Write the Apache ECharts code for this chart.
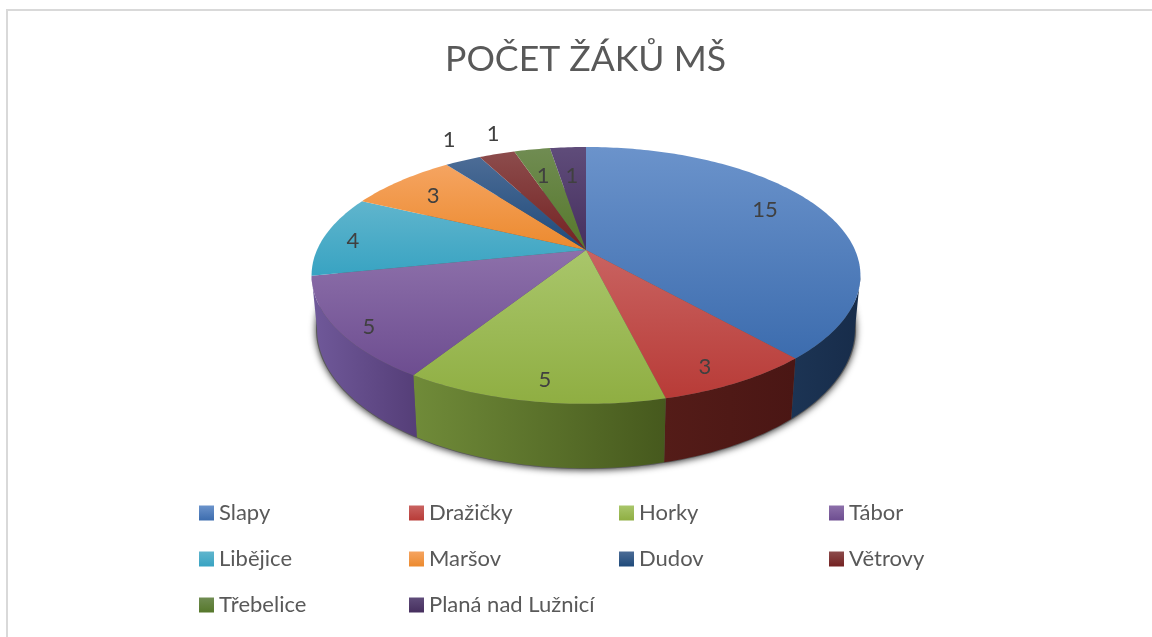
<!DOCTYPE html>
<html>
<head>
<meta charset="utf-8">
<style>html,body{margin:0;padding:0;background:#fff}#c{width:1152px;height:637px}</style>
<script src="https://cdn.jsdelivr.net/npm/echarts@6/dist/echarts.min.js"></script>
</head>
<body>
<div id="c"></div>
<script>
const titleText = 'POČET ŽÁKŮ MŠ';
const categories = ['Slapy','Dražičky','Horky','Tábor','Libějice','Maršov','Dudov','Větrovy','Třebelice','Planá nad Lužnicí'];
const values = [15,3,5,5,4,3,1,1,1,1];

// slice colours: top surface (far, near) and side wall (left, right)
const topLight = ['#6b93cb','#c96361','#a9c66b','#8d70aa','#60b5cd','#f5a461','#4c6c96','#8c4c4c','#708c52','#5f4c7a'];
const topDark  = ['#3c6cae','#b83b37','#8fae42','#6d4d90','#38a3c2','#ec8a2e','#1f4a7a','#742222','#56782b','#462f5e'];
const wallLeft = ['#1c3454','#541c18','#708b39','#70599a','#2c7f96','#b06820','#173857','#571a1a','#40591f','#342345'];
const wallRight= ['#172c4a','#4a1614','#46591d','#553e78','#2c7f96','#b06820','#173857','#571a1a','#40591f','#342345'];
// data-label placement: fraction of the radius and turn (degrees) from the slice's middle
const labelRadius = [.791,.881,.881,.908,.882,.786,1.247,1.231,.704,.683];
const labelTurn   = [-5.2,2.7,-1,-3.1,-2.1,-1.6,2.6,2.9,-1,-.4];

const total = values.reduce((a,b)=>a+b,0);
const starts = values.map((_,i)=>values.slice(0,i).reduce((a,b)=>a+b,0));

// perspective of the disc
const CX = 586, CY = 250, A = 269, B = 123.4, K = .198;
const XB = .98, CYB = 301.2, BB = 134;
const rad = d => d*Math.PI/180;
const WALL_FROM = Math.acos(-K)*180/Math.PI, WALL_TO = 360 - WALL_FROM;
function topPt(deg, r){
  const t = rad(deg), w = 1 + K*r*Math.cos(t);
  return [CX + A*r*Math.sin(t)/w, CY - B*r*Math.cos(t)/w];
}
function botPt(deg, r){
  const t = rad(deg), w = 1 + K*Math.cos(t);
  return [CX + XB*A*r*Math.sin(t)/w, CYB - BB*r*Math.cos(t)/w];
}
function arc(fn, a, b, r){
  const n = Math.max(2, Math.ceil(Math.abs(b-a))), pts = [];
  for (let i=0;i<=n;i++) pts.push(fn(a+(b-a)*i/n, r===undefined?1:r));
  return pts;
}
const vGrad = (a,b)=>new echarts.graphic.LinearGradient(0,0,0,1,[{offset:0,color:a},{offset:1,color:b}]);
const hGrad = (a,b)=>new echarts.graphic.LinearGradient(0,0,1,0,[{offset:0,color:a},{offset:1,color:b}]);

function renderSlice(i){
  return function(params, api){
    const a = api.value(0)/total*360, b = a + api.value(1)/total*360;
    const children = [];
    const wa = Math.max(a,WALL_FROM), wb = Math.min(b,WALL_TO);
    if (wb > wa){
      children.push({type:'polygon', z2:1, silent:true,
        shape:{points: arc(topPt,wa,wb).concat(arc(botPt,wa,wb).reverse())},
        style:{fill:hGrad(wallLeft[i],wallRight[i])}});
    }
    children.push({type:'polygon', z2:2, silent:true,
      shape:{points:[topPt(0,0)].concat(arc(topPt,a,b))},
      style:{fill:vGrad(topLight[i],topDark[i])}});
    const p = topPt((a+b)/2 + labelTurn[i], labelRadius[i]);
    children.push({type:'text', z2:3, silent:true, x:p[0], y:p[1],
      style:{text:String(api.value(1)), fill:'#404040', font:'22px Lato', textAlign:'center', textVerticalAlign:'middle'}});
    return {type:'group', children};
  };
}
function renderShadow(){
  return {type:'polygon', z2:0, silent:true,
    shape:{points:arc(botPt,0,360,1.004)},
    style:{fill:'#5a5a5a', shadowBlur:7, shadowColor:'rgba(0,0,0,.8)', shadowOffsetX:0, shadowOffsetY:1}};
}

const series = [{type:'custom', name:'shadow', coordinateSystem:'none', silent:true, animation:false,
  data:[[0]], renderItem:renderShadow}];
categories.forEach((name,i)=>{
  series.push({type:'custom', name, coordinateSystem:'none', silent:true, animation:false,
    itemStyle:{color:topDark[i]},
    data:[[starts[i], values[i]]], renderItem:renderSlice(i)});
});

const chart = echarts.init(document.getElementById('c'));
chart.setOption({
  animation:false,
  backgroundColor:'#fff',
  title:{text:titleText, left:585.5, top:42, padding:0, textAlign:'center',
    textStyle:{fontFamily:'Lato', fontSize:35.6, fontWeight:'normal', color:'#595959'}},
  legend:{
    data:categories.map((name,i)=>({name, itemStyle:{color:vGrad(topLight[i],topDark[i])}})),
    left:199, top:498, width:830, padding:0, itemGap:16, itemWidth:15, itemHeight:15, icon:'rect',
    selectedMode:false,
    formatter:'{t|{name}}',
    textStyle:{rich:{t:{width:174, height:30, backgroundColor:'rgba(255,255,255,0)', fontFamily:'Lato', fontSize:22, color:'#595959'}}}
  },
  graphic:[{type:'polyline', silent:true, shape:{points:[[7,637],[7,10],[1152,10]]},
    style:{stroke:'#d9d9d9', lineWidth:2, fill:null}}],
  series
});
</script>
</body>
</html>
